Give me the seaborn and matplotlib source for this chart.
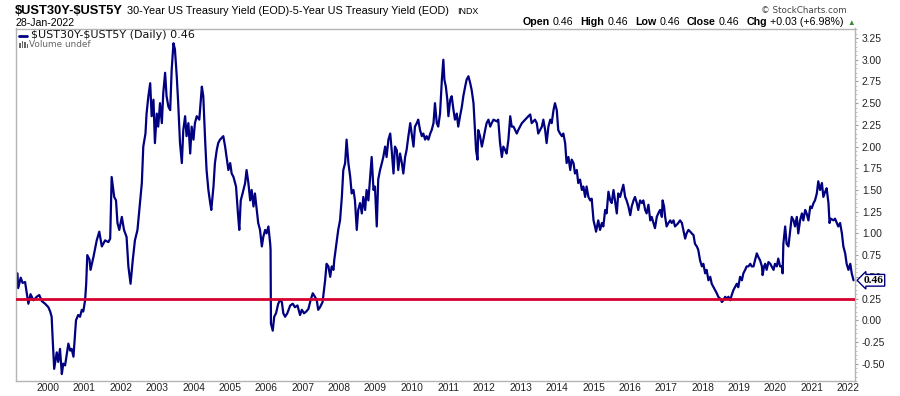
import matplotlib
matplotlib.use("Agg")
import matplotlib.pyplot as plt
import matplotlib.transforms as mtransforms
from matplotlib.lines import Line2D
from matplotlib.patches import Rectangle
from matplotlib.ticker import MultipleLocator
import pandas as pd
import seaborn as sns

# spread between 30y and 5y treasury yields (decimal years)
dates = [
    1999.16, 1999.18, 1999.25, 1999.30, 1999.37, 1999.46, 1999.52, 1999.60, 1999.69, 1999.76, 1999.83, 1999.92,
    2000.01, 2000.06, 2000.10, 2000.13, 2000.17, 2000.24, 2000.28, 2000.33, 2000.38, 2000.42, 2000.47, 2000.56, 2000.61, 2000.65, 2000.70, 2000.74, 2000.77, 2000.83, 2000.88, 2000.93, 2000.97,
    2001.02, 2001.05, 2001.08, 2001.14, 2001.17, 2001.25, 2001.34, 2001.41, 2001.48, 2001.57, 2001.66, 2001.71, 2001.75, 2001.82, 2001.87, 2001.91, 2001.96,
    2002.03, 2002.09, 2002.16, 2002.21, 2002.27, 2002.33, 2002.39, 2002.46, 2002.53, 2002.58, 2002.62, 2002.68, 2002.71, 2002.76, 2002.81, 2002.85, 2002.90, 2002.94, 2002.99,
    2003.03, 2003.08, 2003.13, 2003.17, 2003.22, 2003.26, 2003.31, 2003.36, 2003.40, 2003.45, 2003.49, 2003.54, 2003.58, 2003.63, 2003.68, 2003.72, 2003.77, 2003.81, 2003.86, 2003.91, 2003.95,
    2004.00, 2004.04, 2004.09, 2004.16, 2004.23, 2004.27, 2004.32, 2004.36, 2004.41, 2004.46, 2004.49, 2004.55, 2004.59, 2004.64, 2004.68, 2004.73, 2004.82, 2004.87, 2004.91, 2004.96,
    2005.01, 2005.05, 2005.10, 2005.17, 2005.23, 2005.26, 2005.30, 2005.35, 2005.42, 2005.46, 2005.51, 2005.56, 2005.60, 2005.65, 2005.69, 2005.74, 2005.78, 2005.83, 2005.88, 2005.92, 2005.97,
    2006.01, 2006.06, 2006.11, 2006.12, 2006.13, 2006.18, 2006.22, 2006.27, 2006.33, 2006.38, 2006.43, 2006.47, 2006.52, 2006.58, 2006.66, 2006.73, 2006.79, 2006.86, 2006.93, 2006.98,
    2007.04, 2007.10, 2007.16, 2007.22, 2007.28, 2007.34, 2007.39, 2007.43, 2007.48, 2007.55, 2007.59, 2007.62, 2007.66, 2007.71, 2007.76, 2007.80, 2007.85, 2007.87, 2007.92, 2007.98,
    2008.03, 2008.08, 2008.12, 2008.17, 2008.21, 2008.26, 2008.31, 2008.35, 2008.40, 2008.44, 2008.49, 2008.53, 2008.58, 2008.63, 2008.67, 2008.72, 2008.76, 2008.81, 2008.86, 2008.90, 2008.95, 2008.99,
    2009.04, 2009.08, 2009.13, 2009.18, 2009.22, 2009.27, 2009.31, 2009.36, 2009.41, 2009.45, 2009.50, 2009.54, 2009.59, 2009.63, 2009.68, 2009.73, 2009.77, 2009.82, 2009.86, 2009.91, 2009.96,
    2010.00, 2010.05, 2010.09, 2010.14, 2010.18, 2010.23, 2010.28, 2010.32, 2010.37, 2010.41, 2010.46, 2010.51, 2010.55, 2010.60, 2010.64, 2010.69, 2010.73, 2010.78, 2010.83, 2010.87, 2010.90, 2010.94, 2010.98,
    2011.01, 2011.06, 2011.10, 2011.15, 2011.19, 2011.24, 2011.28, 2011.33, 2011.38, 2011.42, 2011.47, 2011.51, 2011.56, 2011.61, 2011.65, 2011.70, 2011.74, 2011.77, 2011.81, 2011.83, 2011.88, 2011.93, 2011.97,
    2012.02, 2012.06, 2012.11, 2012.16, 2012.20, 2012.25, 2012.34, 2012.38, 2012.43, 2012.48, 2012.52, 2012.57, 2012.61, 2012.66, 2012.71, 2012.75, 2012.80, 2012.89, 2012.93, 2012.98,
    2013.03, 2013.12, 2013.21, 2013.26, 2013.30, 2013.39, 2013.44, 2013.48, 2013.53, 2013.58, 2013.62, 2013.67, 2013.71, 2013.76, 2013.81, 2013.85, 2013.90, 2013.94, 2013.99,
    2014.03, 2014.08, 2014.13, 2014.17, 2014.22, 2014.26, 2014.31, 2014.36, 2014.40, 2014.45, 2014.49, 2014.54, 2014.58, 2014.63, 2014.68, 2014.72, 2014.77, 2014.81, 2014.86, 2014.91, 2014.95,
    2015.00, 2015.04, 2015.07, 2015.13, 2015.18, 2015.23, 2015.27, 2015.32, 2015.36, 2015.41, 2015.46, 2015.50, 2015.55, 2015.59, 2015.64, 2015.68, 2015.73, 2015.78, 2015.82, 2015.87, 2015.91, 2015.96,
    2016.01, 2016.05, 2016.10, 2016.14, 2016.19, 2016.23, 2016.28, 2016.33, 2016.37, 2016.42, 2016.46, 2016.51, 2016.56, 2016.60, 2016.65, 2016.69, 2016.74, 2016.78, 2016.83, 2016.88, 2016.90, 2016.94, 2016.97,
    2017.01, 2017.06, 2017.11, 2017.15, 2017.20, 2017.24, 2017.29, 2017.33, 2017.38, 2017.43, 2017.47, 2017.52, 2017.56, 2017.61, 2017.66, 2017.70, 2017.75, 2017.79, 2017.84, 2017.88, 2017.93, 2017.98,
    2018.02, 2018.07, 2018.11, 2018.16, 2018.21, 2018.25, 2018.30, 2018.34, 2018.39, 2018.43, 2018.48, 2018.53, 2018.57, 2018.62, 2018.66, 2018.71, 2018.76, 2018.80, 2018.85, 2018.89, 2018.94, 2018.98,
    2019.03, 2019.08, 2019.12, 2019.17, 2019.21, 2019.26, 2019.31, 2019.35, 2019.40, 2019.44, 2019.49, 2019.53, 2019.58, 2019.63, 2019.65, 2019.69, 2019.72, 2019.76, 2019.81, 2019.86, 2019.90, 2019.95, 2019.99,
    2020.04, 2020.08, 2020.13, 2020.18, 2020.20, 2020.22, 2020.27, 2020.31, 2020.36, 2020.41, 2020.45, 2020.50, 2020.54, 2020.59, 2020.63, 2020.68, 2020.73, 2020.77, 2020.82, 2020.86, 2020.91, 2020.96,
    2021.00, 2021.05, 2021.09, 2021.14, 2021.18, 2021.23, 2021.28, 2021.32, 2021.37, 2021.41, 2021.46, 2021.49, 2021.52, 2021.60, 2021.64, 2021.69, 2021.73, 2021.78, 2021.83, 2021.87, 2021.92, 2021.96,
    2022.01, 2022.06, 2022.10, 2022.15,
]
spread = [
    0.54, 0.37, 0.49, 0.43, 0.44, 0.19, 0.30, 0.23, 0.27, 0.29, 0.22, 0.19,
    0.15, 0.10, 0.04, -0.23, -0.56, -0.37, -0.48, -0.33, -0.62, -0.50, -0.52, -0.27, -0.35, -0.33, -0.42, -0.19, 0.00, 0.06, 0.04, 0.12, 0.10,
    0.23, 0.42, 0.75, 0.70, 0.58, 0.73, 0.92, 1.02, 0.85, 0.92, 0.90, 0.94, 1.65, 1.42, 1.38, 1.12, 1.04,
    1.19, 1.04, 0.96, 0.62, 0.42, 0.69, 0.92, 1.04, 1.35, 1.58, 2.00, 2.15, 2.38, 2.58, 2.73, 2.35, 2.54, 2.04, 2.38,
    2.23, 2.50, 2.27, 2.62, 2.85, 2.58, 2.46, 2.42, 2.88, 3.19, 3.12, 2.81, 2.50, 2.04, 1.81, 2.19, 2.35, 2.12, 2.27, 1.92, 2.23,
    2.08, 2.27, 2.35, 2.31, 2.69, 2.58, 2.08, 1.73, 1.50, 1.35, 1.27, 1.54, 1.81, 1.96, 2.04, 2.08, 2.12, 2.00, 1.88, 1.73,
    1.81, 1.69, 1.65, 1.54, 1.19, 1.04, 1.38, 1.46, 1.58, 1.73, 1.58, 1.38, 1.50, 1.31, 1.46, 1.27, 1.12, 1.04, 0.85, 0.96, 1.04,
    1.00, 1.08, 0.88, 0.81, -0.04, -0.12, 0.04, 0.08, 0.19, 0.23, 0.21, 0.08, 0.04, 0.08, 0.17, 0.19, 0.15, 0.17, 0.06, 0.12,
    0.08, 0.10, 0.13, 0.23, 0.31, 0.27, 0.23, 0.12, 0.15, 0.21, 0.35, 0.46, 0.65, 0.62, 0.50, 0.62, 0.58, 0.69, 0.85, 1.04,
    1.15, 1.42, 1.73, 1.81, 2.08, 1.81, 1.65, 1.46, 1.50, 1.38, 1.04, 1.27, 1.35, 1.23, 1.42, 1.27, 1.50, 1.38, 1.65, 1.88, 1.50, 1.54,
    1.08, 1.62, 1.73, 1.81, 1.88, 2.00, 1.88, 2.08, 2.15, 1.96, 1.69, 2.00, 1.96, 1.73, 1.92, 1.81, 1.69, 1.88, 1.96, 2.12, 2.27,
    2.15, 2.00, 2.23, 2.27, 2.31, 2.19, 2.12, 2.15, 2.08, 2.12, 2.08, 2.15, 2.19, 2.27, 2.50, 2.27, 2.23, 2.38, 2.77, 3.00, 2.77, 2.69, 2.54,
    2.35, 2.54, 2.58, 2.42, 2.31, 2.38, 2.23, 2.35, 2.46, 2.58, 2.69, 2.77, 2.81, 2.73, 2.65, 2.50, 2.19, 1.96, 1.85, 2.19, 2.12, 2.00, 2.08,
    2.19, 2.27, 2.31, 2.23, 2.27, 2.31, 2.29, 2.31, 2.04, 1.88, 2.00, 1.96, 1.92, 2.08, 2.35, 2.23, 2.23, 2.15, 2.19, 2.23,
    2.27, 2.31, 2.35, 2.37, 2.27, 2.31, 2.27, 2.15, 2.19, 2.23, 2.31, 2.19, 2.04, 2.23, 2.31, 2.27, 2.42, 2.50, 2.42,
    2.19, 2.15, 2.12, 2.15, 2.04, 1.81, 1.88, 1.73, 1.85, 1.81, 1.69, 1.73, 1.58, 1.62, 1.50, 1.54, 1.42, 1.54, 1.42, 1.38, 1.40,
    1.15, 1.08, 1.02, 1.15, 1.04, 1.12, 1.08, 1.27, 1.23, 1.48, 1.38, 1.35, 1.50, 1.38, 1.23, 1.46, 1.42, 1.50, 1.56, 1.42, 1.38, 1.31,
    1.21, 1.31, 1.38, 1.42, 1.35, 1.27, 1.38, 1.35, 1.38, 1.27, 1.23, 1.33, 1.15, 1.19, 1.12, 1.06, 1.19, 1.23, 1.27, 1.19, 1.38, 1.31, 1.19,
    1.08, 1.12, 1.15, 1.12, 1.15, 1.08, 1.10, 1.12, 1.15, 1.12, 1.04, 0.94, 1.00, 1.04, 1.02, 1.00, 0.98, 0.88, 0.85, 0.81, 0.69, 0.62,
    0.65, 0.54, 0.58, 0.46, 0.50, 0.42, 0.38, 0.35, 0.31, 0.27, 0.25, 0.21, 0.23, 0.27, 0.25, 0.27, 0.23, 0.29, 0.35, 0.38, 0.42, 0.38,
    0.50, 0.46, 0.54, 0.58, 0.62, 0.62, 0.65, 0.62, 0.62, 0.69, 0.77, 0.73, 0.69, 0.62, 0.52, 0.62, 0.65, 0.58, 0.67, 0.65, 0.62, 0.58, 0.65,
    0.62, 0.71, 0.62, 0.62, 0.54, 0.88, 1.08, 0.88, 0.85, 1.04, 1.19, 1.15, 1.08, 1.19, 1.00, 1.15, 1.23, 1.15, 1.27, 1.23, 1.15, 1.31,
    1.29, 1.35, 1.38, 1.46, 1.60, 1.50, 1.58, 1.42, 1.48, 1.52, 1.35, 1.12, 1.17, 1.15, 1.17, 1.12, 1.08, 1.12, 1.00, 0.85, 0.77, 0.65,
    0.58, 0.65, 0.54, 0.46,
]
assert len(dates) == len(spread)

year_ticks = list(range(2000, 2023))
y_ticks = [-0.50, -0.25, 0.00, 0.25, 0.50, 0.75, 1.00, 1.25, 1.50, 1.75, 2.00, 2.25, 2.50, 2.75, 3.00, 3.25]
ref_level = 0.25
last_close = 0.46

symbol = "$UST30Y-$UST5Y"
description = "30-Year US Treasury Yield (EOD)-5-Year US Treasury Yield (EOD)"
exchange = "INDX"
as_of = "28-Jan-2022"
quote = [("Open", "0.46"), ("High", "0.46"), ("Low", "0.46"), ("Close", "0.46"), ("Chg", "+0.03 (+6.98%)")]

W, H = 900, 396
NAVY = "#000080"

sns.set_style("white")
plt.rcParams["font.family"] = ["Liberation Sans", "DejaVu Sans"]

fig = plt.figure(figsize=(W / 100, H / 100), dpi=100)
ax = fig.add_axes([16 / W, 15 / H, 839 / W, 352.5 / H])

df = pd.DataFrame({"date": dates, "spread": spread})
sns.lineplot(data=df, x="date", y="spread", ax=ax, color=NAVY, linewidth=1.6,
             estimator=None, sort=False)
ax.axhline(ref_level, color="#d6002f", linewidth=2, zorder=3)

ax.set_xlim(1999.12, 2022.19)
ax.set_ylim(-0.70, 3.36)
ax.set_xlabel("")
ax.set_ylabel("")
ax.set_xticks(year_ticks)
ax.set_xticklabels([str(y) for y in year_ticks])
ax.yaxis.tick_right()
ax.set_yticks(y_ticks)
ax.set_yticklabels([f"{v:.2f}" for v in y_ticks])
ax.yaxis.set_minor_locator(MultipleLocator(0.05))
ax.tick_params(axis="x", length=0, pad=1.5, labelsize=7.4, labelcolor="#222222")
ax.tick_params(axis="y", which="major", direction="out", length=2.5, width=0.8,
               color="#a0a0a0", labelsize=7.4, labelcolor="#222222", pad=2.5)
ax.tick_params(axis="y", which="minor", direction="out", length=1.2, width=0.6, color="#b8b8b8")
for sp in ax.spines.values():
    sp.set_color("#b4b4b4")
    sp.set_linewidth(1)

# last value tag on the price axis
blend = mtransforms.blended_transform_factory(ax.transAxes, ax.transData)
ax.annotate(f"{last_close:.2f}", xy=(1.0, last_close), xycoords=blend,
            xytext=(6, 0), textcoords="offset points", ha="left", va="center",
            fontsize=8.2, fontweight="bold", family=["Liberation Serif", "DejaVu Serif"],
            color="black", annotation_clip=False, zorder=10,
            bbox=dict(boxstyle="larrow,pad=0.12", fc="white", ec=NAVY, lw=1))

renderer = fig.canvas.get_renderer()


def text_row(x_px, y_px, parts, align="left"):
    items = []
    for s, kw, gap in parts:
        t = fig.text(0, 1 - y_px / H, s, ha="left", va="baseline", **kw)
        items.append((t, t.get_window_extent(renderer).width, gap))
    total = sum(w + g for _, w, g in items)
    x = x_px if align == "left" else x_px - total
    for t, w, g in items:
        t.set_x(x / W)
        x += w + g


esc = lambda s: s.replace("$", r"\$")

text_row(15, 14, [
    (esc(symbol), dict(fontsize=9.3, fontweight="bold", color="black"), 4),
    (description, dict(fontsize=7.8, color="black"), 8),
    (exchange, dict(fontsize=6.4, color="black"), 0),
])
text_row(15, 26, [(as_of, dict(fontsize=7.6, color="black"), 0)])

text_row(847, 13, [("© StockCharts.com", dict(fontsize=6.3, color="#444444",
                                               family=["DejaVu Sans"]), 0)], align="right")

qparts = []
for i, (label, val) in enumerate(quote):
    qparts.append((label, dict(fontsize=7.7, fontweight="bold", color="black"), 3))
    qparts.append((val, dict(fontsize=7.7, color="black"), 7 if i < len(quote) - 1 else 4))
qparts.append(("▲", dict(fontsize=5.5, color="#2e8b2e"), 0))
text_row(855, 25, qparts, align="right")

# in-chart legend
fig.add_artist(Line2D([19 / W, 27 / W], [1 - 35.5 / H] * 2, transform=fig.transFigure,
                      color=NAVY, linewidth=2))
fig.text(31 / W, 1 - 35.5 / H, esc(f"{symbol} (Daily) {last_close:.2f}"), ha="left", va="center",
         fontsize=8, family=["DejaVu Sans"], color="#111111")
for bx, bh in [(19, 5), (21.5, 7), (24, 6), (26.5, 4)]:
    fig.add_artist(Rectangle((bx / W, 1 - 48 / H), 1.6 / W, bh / H, transform=fig.transFigure,
                             color="#666666", lw=0))
fig.text(29 / W, 1 - 44.5 / H, "Volume undef", ha="left", va="center",
         fontsize=6.4, family=["DejaVu Sans"], color="#666666")

fig.savefig("out.png", dpi=100)
